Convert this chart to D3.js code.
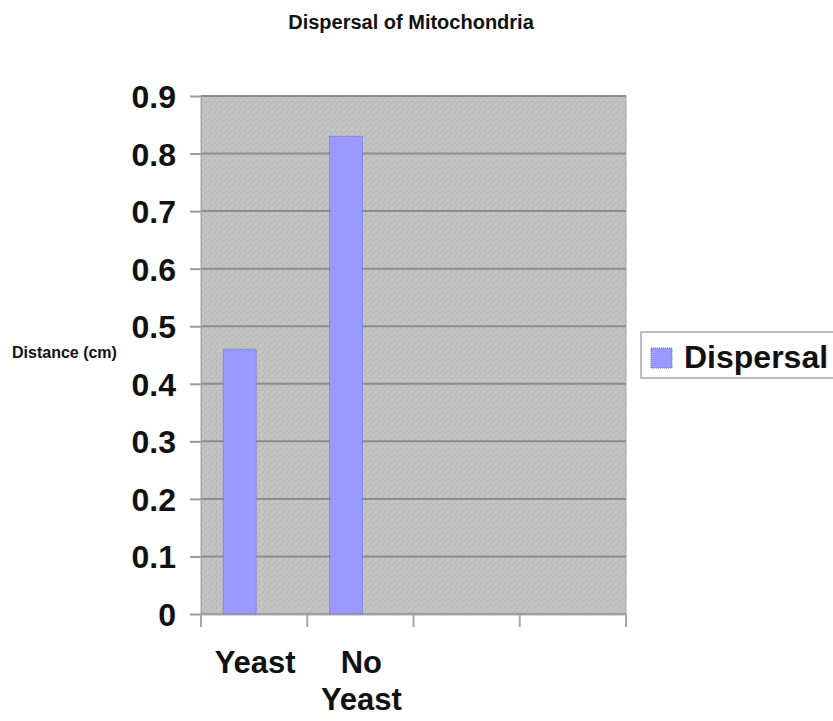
<!DOCTYPE html>
<html>
<head>
<meta charset="utf-8">
<script src="https://cdn.jsdelivr.net/npm/d3@7"></script>
<style>
  body { margin: 0; background: #fff; }
  text { font-family: "Liberation Sans", Arial, sans-serif; font-weight: bold; fill: #111; }
</style>
</head>
<body>
<div class="chart"></div>
<script>
//Data
var categories = ["Yeast", "No Yeast", "c3", "c4"];
var labelLines = [["Yeast"], ["No", "Yeast"], [], []];
var values = [0.46, 0.83];
var yTicks = [0, 0.1, 0.2, 0.3, 0.4, 0.5, 0.6, 0.7, 0.8, 0.9];

//Width and height
var w = 833;
var h = 721;
var plotLeft = 201, plotRight = 626, plotTop = 96, plotBottom = 614;

var svg = d3.select(".chart")
    .append("svg")
    .attr("width", w)
    .attr("height", h);

//Texture for plot area
var defs = svg.append("defs");
var pat = defs.append("pattern")
    .attr("id", "tex")
    .attr("width", 6)
    .attr("height", 6)
    .attr("patternUnits", "userSpaceOnUse");
pat.append("rect").attr("width", 6).attr("height", 6).attr("fill", "#c4c4c4");
pat.append("path")
    .attr("d", "M0,3 L3,0 M3,6 L6,3 M0,0 L1,1 M4,4 L6,6")
    .attr("stroke", "#b6b6b6")
    .attr("stroke-width", 1);

//Scales
var xScale = d3.scaleBand()
    .domain(categories)
    .range([plotLeft, plotRight]);

var yScale = d3.scaleLinear()
    .domain([0, 0.9])
    .range([plotBottom, plotTop]);

//Plot area
svg.append("rect")
    .attr("x", plotLeft)
    .attr("y", plotTop)
    .attr("width", plotRight - plotLeft)
    .attr("height", plotBottom - plotTop)
    .attr("fill", "url(#tex)")
    .attr("stroke", "#a8a8a8");

//Gridlines
svg.selectAll(".grid")
    .data(yTicks)
    .enter()
    .append("line")
    .attr("x1", plotLeft)
    .attr("x2", plotRight)
    .attr("y1", d => yScale(d))
    .attr("y2", d => yScale(d))
    .attr("stroke", "#8c8c8c")
    .attr("stroke-width", 2);

//Y axis
var yAxis = d3.axisLeft(yScale)
    .tickValues(yTicks)
    .tickSize(11)
    .tickPadding(14)
    .tickFormat(d => d === 0 ? "0" : d3.format(".1f")(d));
var gy = svg.append("g")
    .attr("transform", "translate(" + plotLeft + ",0)")
    .call(yAxis);
gy.select(".domain").attr("stroke", "#a8a8a8");
gy.selectAll(".tick line").attr("stroke", "#9a9a9a").attr("stroke-width", 2);
gy.selectAll(".tick text")
    .attr("font-size", 32)
    .attr("dy", "0.36em")
    .style("font-family", "'Liberation Sans', Arial, sans-serif")
    .style("font-weight", "bold")
    .attr("fill", "#111");

//X axis
var xAxis = d3.axisBottom(xScale)
    .tickSize(13)
    .tickFormat("")
    .tickSizeOuter(0);
var gx = svg.append("g")
    .attr("transform", "translate(0," + plotBottom + ")")
    .call(xAxis);
gx.select(".domain").attr("stroke", "#a8a8a8").attr("stroke-width", 2);
gx.selectAll(".tick line")
    .attr("transform", "translate(" + (-xScale.bandwidth() / 2) + ",0)")
    .attr("stroke", "#a8a8a8")
    .attr("stroke-width", 2);
gx.append("line")
    .attr("x1", plotRight)
    .attr("x2", plotRight)
    .attr("y1", 0)
    .attr("y2", 13)
    .attr("stroke", "#a8a8a8")
    .attr("stroke-width", 2);

//X labels
var xLabels = svg.selectAll(".xlabel")
    .data(categories)
    .enter()
    .append("g")
    .attr("transform", d => "translate(" + (xScale(d) + xScale.bandwidth() / 2 + 1) + ",0)");
xLabels.selectAll("text")
    .data((d, i) => labelLines[i].map((t, j) => ({t: t, j: j})))
    .enter()
    .append("text")
    .attr("text-anchor", "middle")
    .attr("font-size", 31)
    .attr("y", d => 673 + d.j * 37)
    .text(d => d.t);

//Bars
svg.selectAll(".bar")
    .data(values)
    .enter()
    .append("rect")
    .attr("class", "bar")
    .attr("x", (d, i) => xScale(categories[i]) + xScale.bandwidth() * 0.21)
    .attr("y", d => yScale(d))
    .attr("width", xScale.bandwidth() * 0.31)
    .attr("height", d => yScale(0) - yScale(d))
    .attr("fill", "#9999ff")
    .attr("stroke", "#6a6acc")
    .attr("stroke-width", 1)
    .attr("stroke-dasharray", "1,1");

//Title
svg.append("text")
    .attr("x", 411)
    .attr("y", 29)
    .attr("text-anchor", "middle")
    .attr("font-size", 20)
    .text("Dispersal of Mitochondria");

//Y axis title
svg.append("text")
    .attr("x", 12)
    .attr("y", 358)
    .attr("font-size", 16)
    .text("Distance (cm)");

//Legend
var legend = svg.append("g");
legend.append("rect")
    .attr("x", 641)
    .attr("y", 332)
    .attr("width", 200)
    .attr("height", 46)
    .attr("fill", "#fff")
    .attr("stroke", "#a8a8a8")
    .attr("stroke-width", 1.5);
legend.append("rect")
    .attr("x", 651)
    .attr("y", 348)
    .attr("width", 21)
    .attr("height", 20)
    .attr("fill", "#9999ff")
    .attr("stroke", "#6a6acc")
    .attr("stroke-dasharray", "1,1");
legend.append("text")
    .attr("x", 684)
    .attr("y", 368)
    .attr("font-size", 32)
    .text("Dispersal");
</script>
</body>
</html>
